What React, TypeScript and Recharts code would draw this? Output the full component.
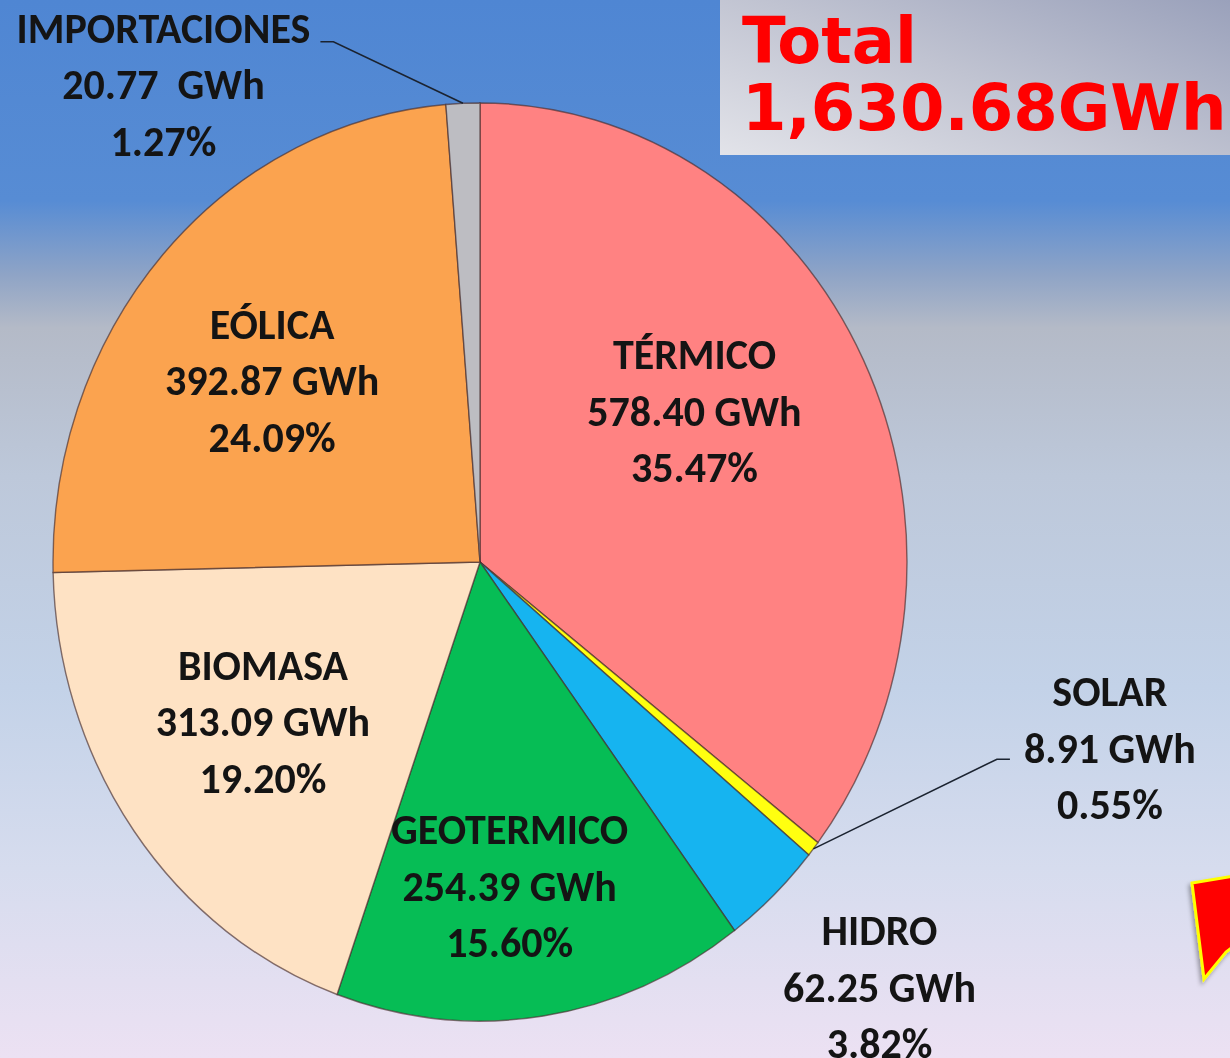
import { Cell, Pie, PieChart } from 'recharts'

// generación por fuente, en sentido horario desde las 12
const sources = ['TÉRMICO', 'SOLAR', 'HIDRO', 'GEOTERMICO', 'BIOMASA', 'EÓLICA', 'IMPORTACIONES']
const energyGWh = [578.4, 8.91, 62.25, 254.39, 313.09, 392.87, 20.77]
const sharePct = [35.47, 0.55, 3.82, 15.6, 19.2, 24.09, 1.27]
const totalLines = ['Total', '1,630.68GWh']

const sliceColors: Record<string, string> = {
  'TÉRMICO': '#ff8282',
  SOLAR: '#ffff10',
  HIDRO: '#16b4f0',
  GEOTERMICO: '#06bd55',
  BIOMASA: '#fee2c4',
  'EÓLICA': '#fba34f',
  IMPORTACIONES: '#bdbdc2',
}

// where each label sits: r = fraction of radius, shift = degrees clockwise from the slice middle
type Placement = { r: number; shift: number; gap?: string; elbow?: [number, number]; end?: [number, number] }
const placement: Record<string, Placement> = {
  'TÉRMICO': { r: 0.6, shift: -7 },
  SOLAR: { r: 1.53, shift: -23.3, elbow: [-113, 11], end: [-100, 11] },
  HIDRO: { r: 1.317, shift: -1.8 },
  GEOTERMICO: { r: 0.71, shift: 2.9 },
  BIOMASA: { r: 0.616, shift: 1.5 },
  'EÓLICA': { r: 0.627, shift: -3 },
  IMPORTACIONES: { r: 1.277, shift: -33.2, gap: '  ', elbow: [170, -43], end: [157, -43] },
}

const W = 1230
const H = 1058
const CX = 480
const CY = 562
const RADIUS = 427
const STRETCH = 1.075 // the original pie is a bit taller than wide

const labelFont = "Carlito, Calibri, Lato, sans-serif"

const pieData = sources.map((name, i) => ({ name, value: energyGWh[i], share: sharePct[i] }))

function renderLabel(props: any) {
  const { cx, cy, midAngle, outerRadius, index } = props
  const name = sources[index]
  const p = placement[name]
  const rx = outerRadius
  const ry = outerRadius * STRETCH
  const base = 90 - midAngle
  const t = ((base + p.shift) * Math.PI) / 180
  const lx = rx * p.r * Math.sin(t)
  const ly = -ry * p.r * Math.cos(t)
  const t0 = (base * Math.PI) / 180
  const ex = rx * Math.sin(t0)
  const ey = -ry * Math.cos(t0)
  const lines = [name, `${energyGWh[index].toFixed(2)}${p.gap ?? ' '}GWh`, `${sharePct[index].toFixed(2)}%`]

  return (
    <g key={`lbl-${name}`} transform={`translate(${cx},${cy}) scale(1,${1 / STRETCH})`}>
      {p.elbow && p.end && (
        <polyline
          points={`${ex},${ey} ${lx + p.elbow[0]},${ly + p.elbow[1]} ${lx + p.end[0]},${ly + p.end[1]}`}
          fill="none"
          stroke="#1b2330"
          strokeWidth={1.6}
        />
      )}
      <text
        textAnchor="middle"
        fill="#141414"
        fontFamily={labelFont}
        fontWeight={700}
        fontSize={42}
        style={{ whiteSpace: 'pre' }}
      >
        {lines.map((line, i) => (
          <tspan key={i} x={lx} y={ly + (i - 1) * 56.5} dominantBaseline="central">
            {line}
          </tspan>
        ))}
      </text>
    </g>
  )
}

export default function App() {
  return (
    <div
      style={{
        position: 'absolute',
        left: 0,
        top: 0,
        width: W,
        height: H,
        overflow: 'hidden',
        background:
          'linear-gradient(180deg, #4f86d3 0%, #578cd4 19%, #8fa4c6 26%, #b4bac7 31%, #bdc8da 45%, #c3d2e8 65%, #d6dcee 82%, #ece1f3 100%)',
      }}
    >
      <div
        style={{
          position: 'absolute',
          left: 0,
          top: 0,
          width: W,
          height: H,
          transform: `scaleY(${STRETCH})`,
          transformOrigin: `${CX}px ${CY}px`,
        }}
      >
        <PieChart width={W} height={H} margin={{ top: 0, right: 0, bottom: 0, left: 0 }}>
          <Pie
            data={pieData}
            dataKey="value"
            nameKey="name"
            cx={CX}
            cy={CY}
            outerRadius={RADIUS}
            startAngle={90}
            endAngle={-270}
            stroke="rgba(70,45,45,0.65)"
            strokeWidth={1.4}
            label={renderLabel}
            labelLine={false}
            isAnimationActive={false}
          >
            {pieData.map((entry) => (
              <Cell key={entry.name} fill={sliceColors[entry.name]} />
            ))}
          </Pie>
        </PieChart>
      </div>

      <div
        style={{
          position: 'absolute',
          left: 720,
          top: 0,
          width: 510,
          height: 155,
          background: 'linear-gradient(200deg, #9aa1bb 0%, #c0c3d1 50%, #e2e3e9 100%)',
        }}
      >
        <svg width={510} height={155}>
          {totalLines.map((line, i) => (
            <text
              key={line}
              x={22}
              y={63 + i * 67}
              fill="#ff0000"
              fontFamily="'DejaVu Sans', Verdana, sans-serif"
              fontWeight={700}
              fontSize={64}
            >
              {line}
            </text>
          ))}
        </svg>
      </div>

      <svg width={W} height={H} style={{ position: 'absolute', left: 0, top: 0, pointerEvents: 'none' }}>
        <defs>
          <filter id="arrowShadow" x="-20%" y="-20%" width="140%" height="140%">
            <feDropShadow dx={-2} dy={3} stdDeviation={2} floodColor="#000" floodOpacity={0.35} />
          </filter>
        </defs>
        <polygon
          points="1192,883 1234,876 1234,946 1226,952 1204,979"
          fill="#ff0000"
          stroke="#ffff00"
          strokeWidth={3}
          strokeLinejoin="miter"
          filter="url(#arrowShadow)"
        />
      </svg>
    </div>
  )
}
